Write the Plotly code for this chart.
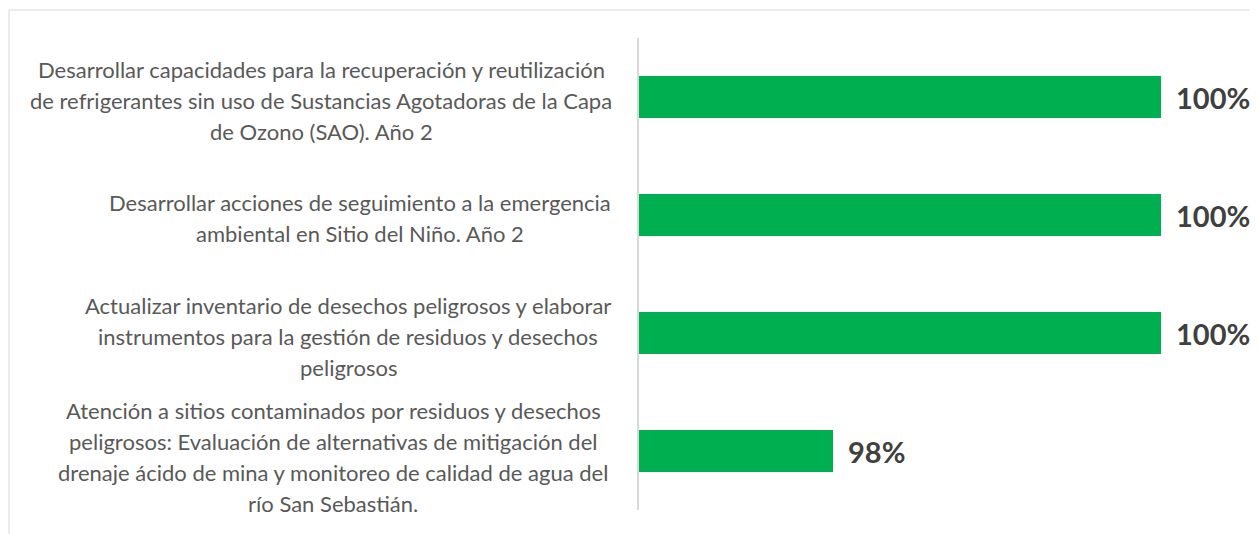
import plotly.graph_objects as go

# ---- data ----
category_lines = [
    ["Desarrollar capacidades para la recuperación y reutilización",
     "de refrigerantes sin uso de Sustancias Agotadoras de la Capa",
     "de Ozono (SAO). Año 2"],
    ["Desarrollar acciones de seguimiento a la emergencia",
     "ambiental en Sitio del Niño. Año 2"],
    ["Actualizar inventario de desechos peligrosos y elaborar",
     "instrumentos para la gestión de residuos y desechos",
     "peligrosos"],
    ["Atención a sitios contaminados por residuos y desechos",
     "peligrosos: Evaluación de alternativas de mitigación del",
     "drenaje ácido de mina y monitoreo de calidad de agua del",
     "río San Sebastián."],
]
values = [100, 100, 100, 98]
value_labels = ["100%", "100%", "100%", "98%"]

# ---- layout constants (page has an 8px body margin) ----
OFF = 8
W, H = 1258, 534
ML, MR, MT, MB = 639 - OFF, 21, 38 - OFF, 32
PW = W - ML - MR
PH = H - MT - MB
label_centers_px = [321 - OFF, 360 - OFF, 348 - OFF, 333 - OFF]
label_drop_px = [3, 3, 3, 6]
LINE_H = 31
FONT = "Lato, 'Open Sans', sans-serif"

categories = [" ".join(l) for l in category_lines]

fig = go.Figure()
fig.add_trace(go.Bar(
    y=categories, x=values, orientation="h",
    marker=dict(color="#00B050", line=dict(width=0)),
    hoverinfo="skip",
))

annotations = []
for cat, lines, cpx, drop in zip(categories, category_lines, label_centers_px, label_drop_px):
    n = len(lines)
    for i, line in enumerate(lines):
        annotations.append(dict(
            xref="paper", yref="y", x=(cpx - ML) / PW, y=cat,
            xanchor="center", yanchor="middle",
            yshift=-(i - (n - 1) / 2) * LINE_H - drop,
            text=line, showarrow=False,
            font=dict(family=FONT, size=22, color="#595959"),
        ))
for cat, v, t in zip(categories, values, value_labels):
    annotations.append(dict(
        xref="x", yref="y", x=v, y=cat, xanchor="left", yanchor="middle",
        xshift=13, text="<b>" + t + "</b>", showarrow=False,
        font=dict(family=FONT, size=29, color="#404040"),
    ))

fig.update_layout(
    width=W, height=H,
    margin=dict(l=ML, r=MR, t=MT, b=MB, pad=0),
    paper_bgcolor="white", plot_bgcolor="white",
    showlegend=False,
    bargap=0.645,
    xaxis=dict(range=[96.817, 100.512], showgrid=False, zeroline=False,
               showticklabels=False, showline=False, fixedrange=True),
    yaxis=dict(autorange="reversed", showgrid=False, zeroline=False,
               showticklabels=False, showline=True, linecolor="#D9D9D9",
               linewidth=2, ticks="", fixedrange=True),
    annotations=annotations,
    shapes=[dict(type="rect", xref="paper", yref="paper",
                 x0=(9 - OFF - ML) / PW, x1=(1255 - OFF - ML) / PW,
                 y0=(PH + MT - 545) / PH, y1=(PH + MT - (10 - OFF)) / PH,
                 line=dict(color="#D9D9D9", width=1), layer="below")],
)

fig.write_html("out.html")
